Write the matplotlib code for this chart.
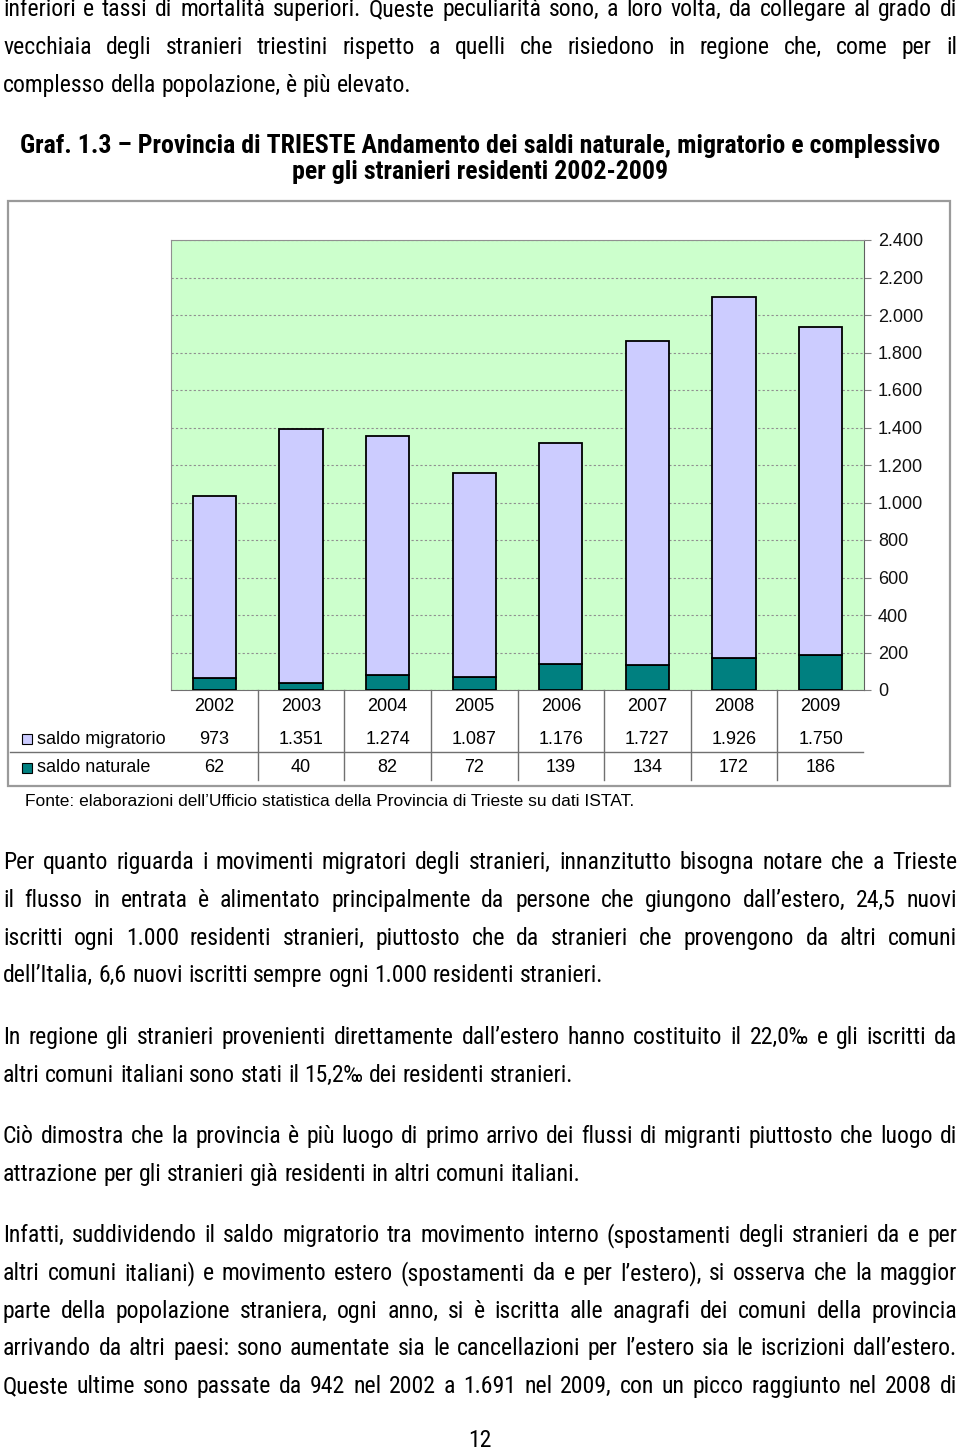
import matplotlib
matplotlib.use("Agg")
import matplotlib.pyplot as plt
import matplotlib.transforms as mtransforms
from matplotlib.patches import Rectangle
from matplotlib.lines import Line2D

W, H = 960, 1451

years = ["2002", "2003", "2004", "2005", "2006", "2007", "2008", "2009"]
saldo_naturale = [62, 40, 82, 72, 139, 134, 172, 186]
saldo_migratorio = [973, 1351, 1274, 1087, 1176, 1727, 1926, 1750]
y_ticks = [0, 200, 400, 600, 800, 1000, 1200, 1400, 1600, 1800, 2000, 2200, 2400]

title_lines = [
    "Graf. 1.3 \u2013 Provincia di TRIESTE Andamento dei saldi naturale, migratorio e complessivo",
    "per gli stranieri residenti 2002-2009",
]
fonte = "Fonte: elaborazioni dell\u2019Ufficio statistica della Provincia di Trieste su dati ISTAT."

# (text, y centre in px, justified)
body = [
    ("inferiori e tassi di mortalità superiori. Queste peculiarità sono, a loro volta, da collegare al grado di", 9, True),
    ("vecchiaia degli stranieri triestini rispetto a quelli che risiedono in regione che, come per il", 47, True),
    ("complesso della popolazione, è più elevato.", 85, False),
    ("Per quanto riguarda i movimenti migratori degli stranieri, innanzitutto bisogna notare che a Trieste", 862, True),
    ("il flusso in entrata è alimentato principalmente da persone che giungono dall\u2019estero, 24,5 nuovi", 900, True),
    ("iscritti ogni 1.000 residenti stranieri, piuttosto che da stranieri che provengono da altri comuni", 938, True),
    ("dell\u2019Italia, 6,6 nuovi iscritti sempre ogni 1.000 residenti stranieri.", 975, False),
    ("In regione gli stranieri provenienti direttamente dall\u2019estero hanno costituito il 22,0\u2030 e gli iscritti da", 1037, True),
    ("altri comuni italiani sono stati il 15,2\u2030 dei residenti stranieri.", 1075, False),
    ("Ciò dimostra che la provincia è più luogo di primo arrivo dei flussi di migranti piuttosto che luogo di", 1136, True),
    ("attrazione per gli stranieri già residenti in altri comuni italiani.", 1174, False),
    ("Infatti, suddividendo il saldo migratorio tra movimento interno (spostamenti degli stranieri da e per", 1235, True),
    ("altri comuni italiani) e movimento estero (spostamenti da e per l\u2019estero), si osserva che la maggior", 1273, True),
    ("parte della popolazione straniera, ogni anno, si è iscritta alle anagrafi dei comuni della provincia", 1311, True),
    ("arrivando da altri paesi: sono aumentate sia le cancellazioni per l\u2019estero sia le iscrizioni dall\u2019estero.", 1348, True),
    ("Queste ultime sono passate da 942 nel 2002 a 1.691 nel 2009, con un picco raggiunto nel 2008 di", 1386, True),
]

narrow = ["Roboto Condensed", "Archivo Narrow", "Liberation Sans", "DejaVu Sans"]
sans = ["Liberation Sans", "DejaVu Sans"]
body_size = 17.1

fig = plt.figure(figsize=(W / 100, H / 100), dpi=100)
renderer = fig.canvas.get_renderer()


def fy(y):
    return 1 - y / H


def put_line(text, y, justify, size=body_size, left=3, right=957):
    # words sit on a common baseline; justified lines spread the gaps
    words = text.split(" ")
    base = fy(y + 7)
    objs = [fig.text(0, base, w, fontsize=size, family=narrow, va="baseline") for w in words]
    widths = [o.get_window_extent(renderer).width for o in objs]
    sp = fig.text(0, 0, "a a", fontsize=size, family=narrow)
    aa = fig.text(0, 0, "aa", fontsize=size, family=narrow)
    gap = sp.get_window_extent(renderer).width - aa.get_window_extent(renderer).width
    sp.remove()
    aa.remove()
    if justify and len(words) > 1:
        gap = max((right - left - sum(widths)) / (len(words) - 1), 0.6 * gap)
    x = left
    for o, w in zip(objs, widths):
        o.set_x(x / W)
        x += w + gap


for text, y, just in body:
    put_line(text, y, just)

fig.text(0.5, fy(153), title_lines[0], ha="center", va="baseline", fontsize=18.6,
         family=narrow, fontweight="bold")
fig.text(0.5, fy(179), title_lines[1], ha="center", va="baseline", fontsize=18.6,
         family=narrow, fontweight="bold")

# outer frame of the chart
fig.patches.append(Rectangle((8 / W, fy(786)), (950 - 8) / W, (786 - 201) / H,
                             transform=fig.transFigure, fill=False,
                             edgecolor="#9a9a9a", linewidth=1.6))

ax = fig.add_axes([171 / W, fy(690), (864 - 171) / W, (690 - 240) / H])
ax.set_facecolor("#CCFFCC")
x = list(range(len(years)))
ax.bar(x, saldo_naturale, width=0.5, color="#008080", edgecolor="black", linewidth=1.3, zorder=3)
ax.bar(x, saldo_migratorio, width=0.5, bottom=saldo_naturale, color="#CCCCFF",
       edgecolor="black", linewidth=1.3, zorder=3)
ax.set_xlim(-0.5, len(years) - 0.5)
ax.set_ylim(0, 2400)
ax.set_yticks(y_ticks)
ax.set_yticklabels([f"{v:,}".replace(",", ".") for v in y_ticks], family=sans, fontsize=13)
ax.yaxis.tick_right()
ax.tick_params(axis="y", length=5, color="#808080", pad=5, labelcolor="#111111")
ax.set_xticks([])
ax.grid(axis="y", linestyle=(0, (2, 2)), color="#909090", linewidth=0.8, zorder=1)
for s in ["left", "top"]:
    ax.spines[s].set_color("#909090")
ax.spines["right"].set_color("#606060")
ax.spines["bottom"].set_color("#707070")

# data table below the chart
tr = mtransforms.blended_transform_factory(ax.transData, fig.transFigure)
for i, yr in enumerate(years):
    ax.text(i, fy(707), yr, transform=tr, ha="center", va="center", family=sans, fontsize=13)
    ax.text(i, fy(739), f"{saldo_migratorio[i]:,}".replace(",", "."), transform=tr,
            ha="center", va="center", family=sans, fontsize=13)
    ax.text(i, fy(768), f"{saldo_naturale[i]:,}".replace(",", "."), transform=tr,
            ha="center", va="center", family=sans, fontsize=13)
for i in range(len(years) - 1):
    fig.lines.append(Line2D([i + 0.5, i + 0.5], [fy(690), fy(780)], transform=tr,
                            color="#707070", linewidth=1.0))
fig.lines.append(Line2D([10 / W, 863 / W], [fy(752), fy(752)], transform=fig.transFigure,
                        color="#707070", linewidth=1.0))

fig.patches.append(Rectangle((22 / W, fy(744)), 10 / W, 10 / H, transform=fig.transFigure,
                             facecolor="#CCCCFF", edgecolor="black", linewidth=0.8))
fig.patches.append(Rectangle((22 / W, fy(773)), 10 / W, 10 / H, transform=fig.transFigure,
                             facecolor="#008080", edgecolor="black", linewidth=0.8))
fig.text(37 / W, fy(739), "saldo migratorio", va="center", family=sans, fontsize=13)
fig.text(37 / W, fy(768), "saldo naturale", va="center", family=sans, fontsize=13)

fig.text(25 / W, fy(802), fonte, va="center", family=sans, fontsize=12.5)

fig.text(0.5, fy(1447), "12", ha="center", va="baseline", family=narrow, fontsize=body_size)

fig.savefig("out.png", dpi=100)
